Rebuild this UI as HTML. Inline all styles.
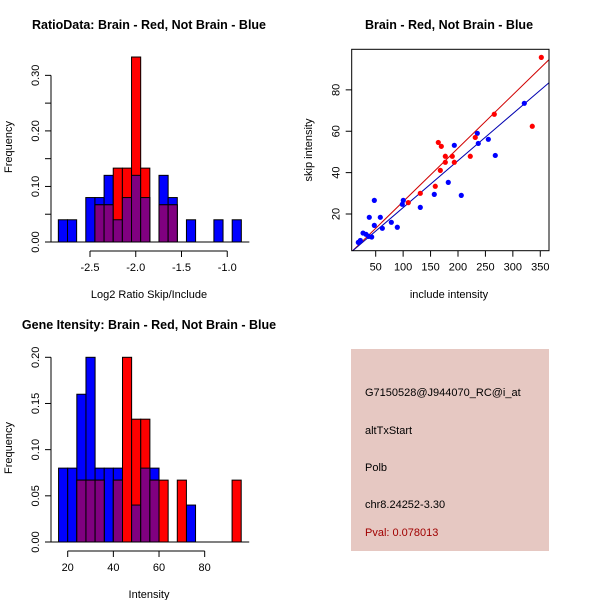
<!DOCTYPE html>
<html><head><meta charset="utf-8"><style>
html,body{margin:0;padding:0;background:#fff}
svg{display:block;font-family:"Liberation Sans",sans-serif}
</style></head><body>
<svg id="c" width="600" height="600" viewBox="0 0 600 600"></svg>
<script>
// ---- data ----
const ratioBreaksStart = -2.846, ratioBinWidth = 0.1;
const ratioBlue = [0.04,0.04,0,0.08,0.08,0.12,0.04,0.08,0.12,0.08,0,0.12,0.08,0,0.04,0,0,0.04,0,0.04];
const ratioRed  = [0,0,0,0,0.067,0.067,0.133,0.133,0.333,0.133,0,0.067,0.067,0,0,0,0,0,0,0];
const ratioYTicks = [0,0.10,0.20,0.30];
const ratioYMinor = [0.05,0.15,0.25];
const ratioXTicks = [-2.5,-2.0,-1.5,-1.0];

const intBreaksStart = 16, intBinWidth = 4;
const intBlue = [0.08,0.08,0.16,0.2,0.08,0.08,0.08,0,0.04,0.08,0.08,0,0,0,0.04,0,0,0,0,0];
const intRed  = [0,0,0.067,0.067,0.067,0,0.067,0.2,0.133,0.133,0.067,0.067,0,0.067,0,0,0,0,0,0.067];
const intYTicks = [0,0.05,0.10,0.15,0.20];
const intXTicks = [20,40,60,80];

const blueX = [18.3,22,26.9,32.3,37.2,42.7,38.3,47.5,47.5,58.4,62.1,78.5,89.4,98.5,100.3,131.3,156.8,182.3,193.3,206,235.2,237,255.3,268,320.9];
const blueY = [6.3,7.2,10.8,10.2,9.2,8.9,18.4,26.6,14.5,18.4,13.1,16,13.6,24.7,26.6,23.2,29.5,35.3,53.2,29,59,54.1,56.1,48.3,73.5];
const redX = [109.4,131.3,158.6,167.8,164.1,169.6,176.9,176.9,189.6,193.3,222.4,231.5,266.2,335.4,351.9];
const redY = [25.5,30,33.4,41.1,54.6,52.7,45,47.9,47.9,45,47.9,57,68.2,62.4,95.7];
const fitRed = [0.2,0.258];   // intercept, slope
const fitBlue = [0.4,0.227];
const scatXTicks = [50,100,150,200,250,300,350];
const scatYTicks = [20,40,60,80];

const NS="http://www.w3.org/2000/svg";
const svg=document.getElementById('c');
function mk(tag,attrs,parent){const e=document.createElementNS(NS,tag);for(const k in attrs)e.setAttribute(k,attrs[k]);(parent||svg).appendChild(e);return e;}
function txt(s,x,y,o,parent){const t=mk('text',Object.assign({x:x,y:y,'font-size':12,'text-anchor':'middle',fill:'#000'},o||{}),parent);t.textContent=s;return t;}

// ---- histogram ----
function hist(name,cfg){
  const g=mk('g',{});
  
  
  const sx=v=>cfg.x0px+(v-cfg.x0)*cfg.kx, sy=v=>cfg.y0px-v*cfg.ky;
  const n=cfg.blue.length;
  for(let i=0;i<n;i++){
    const a=cfg.start+i*cfg.bw, b=a+cfg.bw, x1=sx(a), x2=sx(b);
    const bl=cfg.blue[i], rd=cfg.red[i];
    if(bl>0){const r=mk('rect',{x:x1,y:sy(bl),width:x2-x1,height:sy(0)-sy(bl),fill:'#0000ff',stroke:'#000','stroke-width':1},g);
      }
  }
  for(let i=0;i<n;i++){
    const a=cfg.start+i*cfg.bw, b=a+cfg.bw, x1=sx(a), x2=sx(b);
    const bl=cfg.blue[i], rd=cfg.red[i];
    if(rd>0){const r=mk('rect',{x:x1,y:sy(rd),width:x2-x1,height:sy(0)-sy(rd),fill:'#ff0000',stroke:'#000','stroke-width':1},g);
      }
    const m=Math.min(bl,rd);
    if(m>0){const r=mk('rect',{x:x1,y:sy(m),width:x2-x1,height:sy(0)-sy(m),fill:'#800080',stroke:'#000','stroke-width':1},g);
      }
  }
  mk('line',{x1:sx(cfg.start)-8,x2:sx(cfg.start+n*cfg.bw)+8,y1:sy(0),y2:sy(0),stroke:'#000'},g);
  // y axis
  const yt=cfg.yTicks, ax=cfg.axX;
  mk('line',{x1:ax,x2:ax,y1:sy(yt[0]),y2:sy(yt[yt.length-1]),stroke:'#000'},g);
  yt.concat(cfg.yMinor||[]).forEach(v=>mk('line',{x1:ax-6,x2:ax,y1:sy(v),y2:sy(v),stroke:'#000'},g));
  yt.forEach(v=>{const t=txt(v.toFixed(2),0,0,{'font-size':11,transform:`translate(${ax-12},${sy(v)}) rotate(-90)`},g);});
  // x axis
  const xt=cfg.xTicks, ay=cfg.axY;
  mk('line',{x1:sx(xt[0]),x2:sx(xt[xt.length-1]),y1:ay,y2:ay,stroke:'#000'},g);
  xt.forEach(v=>{mk('line',{x1:sx(v),x2:sx(v),y1:ay,y2:ay+6,stroke:'#000'},g);txt(cfg.fmt(v),sx(v),ay+20,{'font-size':11},g);});
}

hist('ratio-histogram',{start:ratioBreaksStart,bw:ratioBinWidth,blue:ratioBlue,red:ratioRed,
  x0:-2.5,x0px:90,kx:91.5,y0px:242,ky:555.5,yTicks:ratioYTicks,yMinor:ratioYMinor,xTicks:ratioXTicks,
  axX:51,axY:251,fmt:v=>v.toFixed(1)});
hist('intensity-histogram',{start:intBreaksStart,bw:intBinWidth,blue:intBlue,red:intRed,
  x0:20,x0px:67.7,kx:2.283,y0px:542,ky:923.5,yTicks:intYTicks,xTicks:intXTicks,
  axX:51,axY:551,fmt:v=>String(v)});

// ---- scatter ----
(function(){
  const g=mk('g',{});
  
  
  const L=351.7,R=549,T=49.3,B=250.7, xmin=6.25,xmax=365.9,ymin=2.27,ymax=99.6;
  const sx=v=>L+(v-xmin)/(xmax-xmin)*(R-L), sy=v=>B-(v-ymin)/(ymax-ymin)*(B-T);
  const d=mk('defs',{},g);const cp=mk('clipPath',{id:'clp'},d);mk('rect',{x:L,y:T,width:R-L,height:B-T},cp);
  const lg=mk('g',{'clip-path':'url(#clp)'},g);
  [[fitRed,'#d00000','red-fit-line'],[fitBlue,'#0000b0','blue-fit-line']].forEach(([f,c,n])=>{
    const l=mk('line',{x1:sx(xmin),y1:sy(f[0]+f[1]*xmin),x2:sx(xmax),y2:sy(f[0]+f[1]*xmax),stroke:c,'stroke-width':1},lg);
    
  });
  blueX.forEach((x,i)=>{const p=mk('circle',{cx:sx(x),cy:sy(blueY[i]),r:2.6,fill:'#0000ff'},g);
    });
  redX.forEach((x,i)=>{const p=mk('circle',{cx:sx(x),cy:sy(redY[i]),r:2.6,fill:'#ff0000'},g);
    });
  mk('rect',{x:L,y:T,width:R-L,height:B-T,fill:'none',stroke:'#000'},g);
  scatXTicks.forEach(v=>{mk('line',{x1:sx(v),x2:sx(v),y1:B,y2:B+6,stroke:'#000'},g);txt(String(v),sx(v),B+20,{'font-size':11},g);});
  scatYTicks.forEach(v=>{mk('line',{x1:L-6,x2:L,y1:sy(v),y2:sy(v),stroke:'#000'},g);txt(String(v),0,0,{'font-size':11,transform:`translate(${L-12},${sy(v)}) rotate(-90)`},g);});
})();
</script>
<svg width="600" height="600" style="position:absolute;left:0;top:0">
<g font-family="Liberation Sans, sans-serif">
<text x="149" y="29" font-size="12.5" font-weight="bold" text-anchor="middle">RatioData: Brain - Red, Not Brain - Blue</text>
<text transform="translate(12,147) rotate(-90)" font-size="11" text-anchor="middle">Frequency</text>
<text x="149" y="298" font-size="11" text-anchor="middle">Log2 Ratio Skip/Include</text>
<text x="449" y="29" font-size="12.5" font-weight="bold" text-anchor="middle">Brain - Red, Not Brain - Blue</text>
<text transform="translate(312,150) rotate(-90)" font-size="11" text-anchor="middle">skip intensity</text>
<text x="449" y="298" font-size="11" text-anchor="middle">include intensity</text>
<text x="149" y="329" font-size="12.5" font-weight="bold" text-anchor="middle">Gene Itensity: Brain - Red, Not Brain - Blue</text>
<text transform="translate(12,448) rotate(-90)" font-size="11" text-anchor="middle">Frequency</text>
<text x="149" y="598" font-size="11" text-anchor="middle">Intensity</text>
</g>
<g>
<rect x="351" y="349" width="198" height="202" fill="#e6c8c2"/>
<g font-family="Liberation Sans, sans-serif" font-size="11">
<text x="365" y="396">G7150528@J944070_RC@i_at</text>
<text x="365" y="434">altTxStart</text>
<text x="365" y="471">Polb</text>
<text x="365" y="508">chr8.24252-3.30</text>
<text x="365" y="536" fill="#a00000">Pval: 0.078013</text>
</g>
</g>
</svg>
</body></html>
